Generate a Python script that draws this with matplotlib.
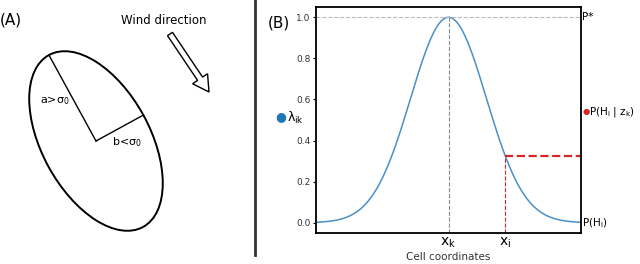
import numpy as np
import matplotlib.pyplot as plt
from matplotlib.patches import Ellipse, FancyArrow

plt.rcParams['mathtext.default'] = 'regular'

# panel B data
x_range = [-3.5, 3.5]
x_k = 0.0
x_i = 1.5
sigma = 1.0
y_ticks = [0.0, 0.2, 0.4, 0.6, 0.8, 1.0]
x_tick_labels = ['$x_k$', '$x_i$']

# panel A sketch (pixel units)
ell_center = (96, 141)
ell_a = 98
ell_b = 54
ell_angle = 61.3

fig = plt.figure(figsize=(6.4, 2.64), dpi=100)

# ---- panel A ----
axA = fig.add_axes([0, 0, 256 / 640, 1])
axA.set_xlim(0, 256)
axA.set_ylim(264, 0)
axA.axis('off')
axA.add_patch(Ellipse(ell_center, 2 * ell_a, 2 * ell_b, angle=ell_angle,
                      fill=False, lw=1.4, color='black'))
th = np.deg2rad(ell_angle)
cx, cy = ell_center
axA.plot([cx, cx - ell_a * np.cos(th)], [cy, cy - ell_a * np.sin(th)], color='black', lw=1)
axA.plot([cx, cx + ell_b * np.sin(th)], [cy, cy - ell_b * np.cos(th)], color='black', lw=1)
axA.text(55, 101, r'a>$\sigma_0$', ha='center', va='center', fontsize=8)
axA.text(127, 142, r'b<$\sigma_0$', ha='center', va='center', fontsize=8)
axA.text(0, 20, '(A)', ha='left', va='center', fontsize=11)
axA.text(164, 20, 'Wind direction', ha='center', va='center', fontsize=8.5)
axA.add_patch(FancyArrow(170, 34, 39, 58, width=6, head_width=18, head_length=16,
                         length_includes_head=True, fc='white', ec='black', lw=1))

# separator line
fig.add_artist(plt.Line2D([254.7 / 640, 254.7 / 640], [1, 9 / 264],
                          color='#333333', lw=2))

# ---- panel B ----
ax = fig.add_axes([316 / 640, 31 / 264, 265 / 640, 226 / 264])
x = np.linspace(x_range[0], x_range[1], 400)
y = np.exp(-(x - x_k) ** 2 / (2 * sigma ** 2))
y_i = np.exp(-(x_i - x_k) ** 2 / (2 * sigma ** 2))
ax.plot(x, y, color='#4a90c8', lw=1.1)
ax.set_xlim(x_range)
ax.set_ylim(-0.05, 1.05)
ax.axhline(1.0, color='#bbbbbb', ls='--', lw=0.8)
ax.plot([x_k, x_k], [-0.05, 1.0], color='#888888', ls='--', lw=0.8)
ax.plot([x_i, x_i], [-0.05, y_i], color='#d62728', ls='--', lw=0.8)
ax.plot([x_i, x_range[1]], [y_i, y_i], color='#d62728', ls='--', lw=1.6)
ax.set_xticks([x_k, x_i])
ax.set_xticklabels(x_tick_labels, fontsize=10)
ax.tick_params(axis='x', length=0, pad=2)
ax.set_yticks(y_ticks)
ax.set_yticklabels(['%.1f' % v for v in y_ticks], fontsize=6.5, color='#333333')
ax.tick_params(axis='y', length=2, width=0.8, pad=2)
ax.set_xlabel('Cell coordinates', fontsize=7.5, color='#333333', labelpad=1)
for s in ax.spines.values():
    s.set_linewidth(1.3)

# annotations
ax.text(1.005, 1.0, 'P*', transform=ax.get_yaxis_transform(), fontsize=7.5, va='center')
ax.text(1.005, 0.0, '$P(H_i)$', transform=ax.get_yaxis_transform(), fontsize=7.5, va='center')
fig.text(589 / 640, 1 - 112 / 264, '$P(H_i\\ |\\ z_k)$', fontsize=7.5, va='center')
fig.text(586 / 640, 1 - 111.5 / 264, '\u25cf', color='#d62728', fontsize=6, ha='center', va='center')
fig.text(281 / 640, 1 - 117 / 264, '\u25cf', color='#1f77b4', fontsize=9, ha='center', va='center')
fig.text(287 / 640, 1 - 118 / 264, r'$\lambda_{ik}$', fontsize=9, va='center')
fig.text(268 / 640, 1 - 23 / 264, '(B)', fontsize=11, va='center')

fig.savefig('out.png', dpi=100)
